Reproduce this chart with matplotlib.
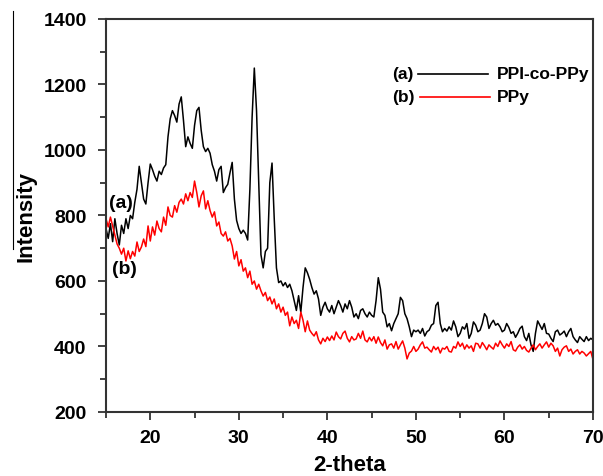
import numpy as np
import matplotlib
matplotlib.use('Agg')
import matplotlib.pyplot as plt
from matplotlib.ticker import MultipleLocator
from matplotlib.lines import Line2D

plt.rcParams['font.family'] = ['Liberation Sans', 'DejaVu Sans']
plt.rcParams['font.weight'] = 'bold'

# 2-theta grid, 0.25 deg step
two_theta = np.arange(15.0, 70.001, 0.25)

# (a) PPI-co-PPy
ppi_co_ppy = [
    760, 730, 775, 720, 790, 745, 710, 770, 745, 790, 760, 800, 790, 840, 880, 950, 900, 850, 835, 900,
    957, 940, 920, 905, 935, 925, 945, 955, 1040, 1095, 1120, 1105, 1085, 1140, 1162, 1090, 1010, 1040, 1020, 1005,
    1075, 1120, 1130, 1060, 1010, 995, 1005, 990, 955, 935, 905, 940, 950, 870, 885, 895, 930, 962, 850, 785,
    760, 745, 755, 745, 725, 880, 1100, 1250, 1120, 900, 680, 640, 690, 700, 900, 960, 790, 640, 595, 600,
    585, 595, 580, 590, 570, 540, 510, 555, 505, 580, 640, 625, 605, 580, 560, 570, 545, 495, 520, 535,
    515, 505, 525, 500, 520, 540, 525, 505, 530, 515, 540, 520, 490, 500, 485, 510, 515, 500, 490, 505,
    495, 490, 540, 610, 575, 505, 495, 460, 470, 448, 470, 485, 500, 550, 540, 500, 485, 460, 430, 450,
    445, 450, 440, 455, 432, 445, 450, 465, 470, 525, 535, 470, 445, 455, 447, 460, 450, 478, 460, 430,
    440, 460, 453, 470, 425, 440, 475, 465, 445, 450, 470, 500, 490, 455, 470, 480, 465, 470, 460, 445,
    450, 470, 458, 440, 445, 428, 440, 455, 462, 430, 418, 440, 405, 385, 440, 478, 465, 452, 470, 440,
    438, 425, 415, 445, 450, 435, 440, 447, 430, 445, 455, 430, 420, 412, 430, 422, 415, 430, 418, 425,
    420,
]

# (b) PPy
ppy = [
    790, 765, 795, 768, 740, 713, 700, 682, 700, 661, 692, 668, 690, 676, 719, 690, 704, 728, 705, 768,
    722, 765, 740, 783, 760, 750, 795, 770, 826, 800, 795, 830, 810, 840, 850, 835, 866, 845, 870, 855,
    905, 870, 826, 860, 875, 820, 845, 815, 795, 811, 768, 780, 745, 737, 750, 722, 730, 707, 667, 690,
    646, 665, 630, 640, 610, 630, 590, 600, 575, 590, 570, 554, 565, 540, 551, 530, 545, 515, 530, 505,
    520, 495, 505, 463, 490, 470, 480, 455, 505, 480, 445, 478, 450, 440, 432, 445, 420, 408, 425, 415,
    429, 418, 432, 420, 444, 430, 423, 440, 447, 425, 414, 430, 420, 423, 440, 425, 447, 420, 414, 428,
    417, 430, 410, 429, 412, 402, 420, 392, 405, 408, 395, 415, 392, 405, 417, 395, 362, 380, 386, 400,
    385, 392, 405, 414, 395, 398, 390, 383, 400, 390, 398, 380, 395, 392, 400, 385, 383, 400, 395, 414,
    400, 410, 392, 405, 395, 402, 385, 410, 408, 395, 412, 402, 390, 405, 398, 392, 410, 400, 417, 405,
    395, 408, 400, 415, 390, 386, 398, 405, 392, 400, 388, 383, 395, 405, 390, 400, 408, 395, 405, 414,
    398, 410, 402, 385, 395, 371, 390, 398, 402, 385, 392, 377, 385, 390, 377, 385, 380, 371, 378, 385,
    360,
]

fig = plt.figure(figsize=(6.03, 4.77), dpi=100)
ax = fig.add_axes([0.1758, 0.1342, 0.8076, 0.824])

ax.plot(two_theta, ppi_co_ppy, color='black', linewidth=1.1)
ax.plot(two_theta, ppy, color='red', linewidth=1.1)

ax.set_xlim(15, 70)
ax.set_ylim(200, 1400)
ax.xaxis.set_minor_locator(MultipleLocator(5))
ax.yaxis.set_major_locator(MultipleLocator(200))
ax.yaxis.set_minor_locator(MultipleLocator(100))
ax.set_xticks([20, 30, 40, 50, 60, 70])
ax.tick_params(which='major', direction='out', length=6, width=1.3, labelsize=14, colors='#333333')
ax.tick_params(which='minor', direction='out', length=4, width=1.3, colors='#333333')
ax.tick_params(axis='y', pad=8)
ax.tick_params(axis='x', pad=6)
ax.tick_params(labelcolor='black')
for s in ax.spines.values():
    s.set_linewidth(1.5)
    s.set_color('#333333')

ax.set_xlabel('2-theta', fontsize=16, fontweight='bold', labelpad=6)
ax.set_ylabel('Intensity', fontsize=16, fontweight='bold', labelpad=5)

# curve labels
ax.text(15.3, 840, '(a)', fontsize=14, fontweight='bold', va='center', ha='left')
ax.text(15.7, 637, '(b)', fontsize=14, fontweight='bold', va='center', ha='left')

# hand-made legend
ax.text(0.587, 0.86, '(a)', transform=ax.transAxes, fontsize=12.5, fontweight='bold', va='center')
ax.plot([0.641, 0.784], [0.86, 0.86], transform=ax.transAxes, color='black', linewidth=1.2)
ax.text(0.803, 0.86, 'PPI-co-PPy', transform=ax.transAxes, fontsize=12.5, fontweight='bold', va='center')
ax.text(0.587, 0.8015, '(b)', transform=ax.transAxes, fontsize=12.5, fontweight='bold', va='center')
ax.plot([0.645, 0.789], [0.8015, 0.8015], transform=ax.transAxes, color='red', linewidth=1.2)
ax.text(0.803, 0.8015, 'PPy', transform=ax.transAxes, fontsize=12.5, fontweight='bold', va='center')

# thin vertical line at left edge of the figure
fig.add_artist(Line2D([0.0216, 0.0216], [0.975, 0.476], color='black', linewidth=0.8))

fig.savefig('out.png', dpi=100, facecolor='white')
